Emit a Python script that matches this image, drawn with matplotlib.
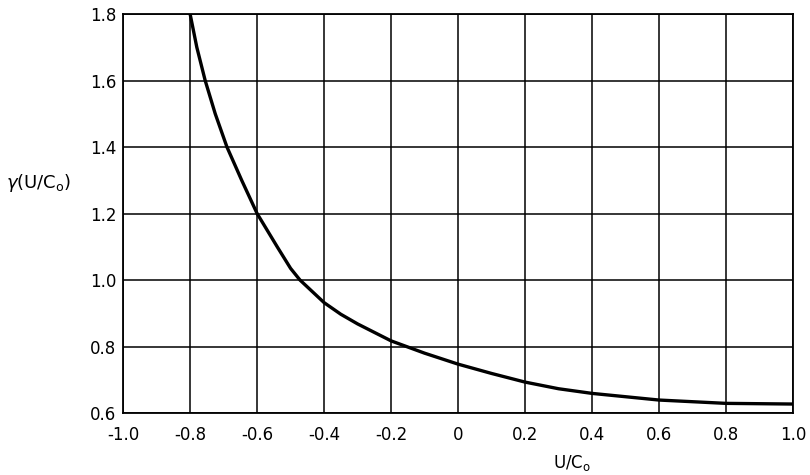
import matplotlib
matplotlib.use("Agg")
import matplotlib.pyplot as plt

# values
u_c0 = [-0.80, -0.78, -0.755, -0.725, -0.69, -0.646, -0.60, -0.54, -0.50, -0.472,
        -0.40, -0.35, -0.30, -0.20, -0.10, 0.0, 0.10, 0.20, 0.30, 0.40, 0.60, 0.80, 1.00]
gamma = [1.80, 1.70, 1.60, 1.50, 1.40, 1.30, 1.20, 1.10, 1.035, 1.00,
         0.932, 0.897, 0.868, 0.817, 0.78, 0.747, 0.719, 0.693, 0.673, 0.659, 0.639, 0.629, 0.627]

xticks = [-1.0, -0.8, -0.6, -0.4, -0.2, 0.0, 0.2, 0.4, 0.6, 0.8, 1.0]
xlabels = ['-1.0', '-0.8', '-0.6', '-0.4', '-0.2', '0', '0.2', '0.4', '0.6', '0.8', '1.0']
yticks = [0.6, 0.8, 1.0, 1.2, 1.4, 1.6, 1.8]
ylabels = ['0.6', '0.8', '1.0', '1.2', '1.4', '1.6', '1.8']

fig = plt.figure(figsize=(8.1, 4.75), dpi=100)
ax = fig.add_axes([0.152, 0.1305, 0.827, 0.84])

ax.plot(u_c0, gamma, color='black', lw=2.4, solid_joinstyle='round')

ax.set_xlim(-1.0, 1.0)
ax.set_ylim(0.6, 1.8)
ax.set_xticks(xticks)
ax.set_xticklabels(xlabels, fontsize=12)
ax.set_yticks(yticks)
ax.set_yticklabels(ylabels, fontsize=12)
ax.tick_params(axis='x', length=0, pad=9)
ax.tick_params(axis='y', length=0, pad=5)
ax.grid(True, color='black', lw=1.1)
for s in ax.spines.values():
    s.set_linewidth(1.3)

fig.text(0.706, 0.026, 'U/C$_\\mathrm{o}$', fontsize=12, ha='center', va='center')
fig.text(0.008, 0.615, '$\\gamma$(U/C$_\\mathrm{o}$)', fontsize=13, ha='left', va='center')

fig.savefig('out.png', dpi=100)
